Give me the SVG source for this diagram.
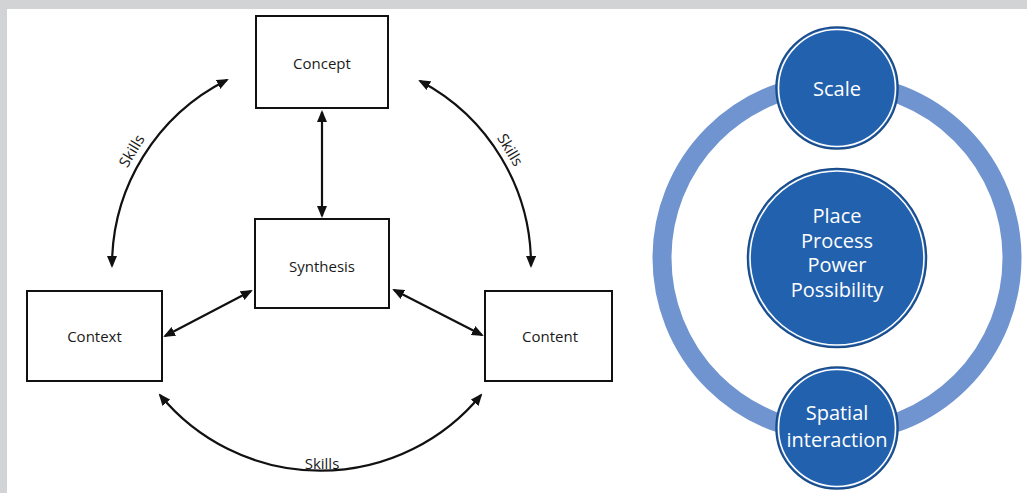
<svg xmlns="http://www.w3.org/2000/svg" width="1027" height="493" viewBox="0 0 1027 493">
<style>
.box{fill:#fff;stroke:#111;stroke-width:2}
.lbl{font-family:"Open Sans","Noto Sans",sans-serif;font-size:15px;fill:#1a1a1a;text-anchor:middle}
.conn{fill:none;stroke:#111;stroke-width:2.2;marker-start:url(#ah);marker-end:url(#ah)}
.ring{fill:none;stroke:#6f94cf;stroke-width:19}
.bc{fill:#2261ae;stroke:#1a4a85;stroke-width:1.5}
.bw{fill:none;stroke:#fff;stroke-width:1.6}
.ct{font-family:"Open Sans","Noto Sans",sans-serif;font-size:20px;fill:#fff;text-anchor:middle}
</style>
<defs>
<marker id="ah" markerUnits="userSpaceOnUse" viewBox="0 0 12 10" refX="10" refY="5" markerWidth="12" markerHeight="10" orient="auto-start-reverse">
<path d="M0,0 L12,5 L0,10 z" fill="#111"/>
</marker>
</defs>
<rect x="0" y="0" width="1027" height="493" fill="#fff"/>
<rect x="0" y="0" width="1027" height="9" fill="#d1d3d5"/>
<rect x="0" y="0" width="7" height="493" fill="#d1d3d5"/>

<g id="connectors">
<path class="conn" d="M322,112 L322,216"/>
<path class="conn" d="M165,336 L251,291"/>
<path class="conn" d="M394,290 L482,335"/>
<path class="conn" d="M112,266 A208,208 0 0 1 227,80"/>
<path class="conn" d="M420,81 A208,208 0 0 1 531,266"/>
<path class="conn" d="M481,395 A208,208 0 0 1 160,395"/>
<text class="lbl" transform="translate(132,151) rotate(-59)" y="5">Skills</text>
<text class="lbl" transform="translate(510,150) rotate(59)" y="5">Skills</text>
<text class="lbl" x="322" y="469">Skills</text>
</g>

<g id="concept">
<rect class="box" x="256" y="16" width="132" height="92"/>
<text class="lbl" x="322" y="69">Concept</text>
</g>
<g id="synthesis">
<rect class="box" x="255" y="219" width="134" height="89"/>
<text class="lbl" x="322" y="272">Synthesis</text>
</g>
<g id="context">
<rect class="box" x="27" y="291" width="135" height="90"/>
<text class="lbl" x="94.5" y="342">Context</text>
</g>
<g id="content">
<rect class="box" x="485" y="291" width="127" height="90"/>
<text class="lbl" x="550" y="342">Content</text>
</g>

<g id="ring">
<circle class="ring" cx="837" cy="258" r="175"/>
</g>
<g id="scale">
<circle class="bc" cx="837" cy="88" r="61"/>
<circle class="bw" cx="837" cy="88" r="58.5"/>
<text class="ct" x="837" y="96">Scale</text>
</g>
<g id="core">
<circle class="bc" cx="837" cy="258" r="89.5"/>
<circle class="bw" cx="837" cy="258" r="87"/>
<text class="ct" x="837" y="223">Place</text>
<text class="ct" x="837" y="247.5">Process</text>
<text class="ct" x="837" y="272">Power</text>
<text class="ct" x="837" y="297">Possibility</text>
</g>
<g id="spatial">
<circle class="bc" cx="837" cy="428" r="61"/>
<circle class="bw" cx="837" cy="428" r="58.5"/>
<text class="ct" x="837" y="420">Spatial</text>
<text class="ct" x="837" y="447">interaction</text>
</g>
</svg>
